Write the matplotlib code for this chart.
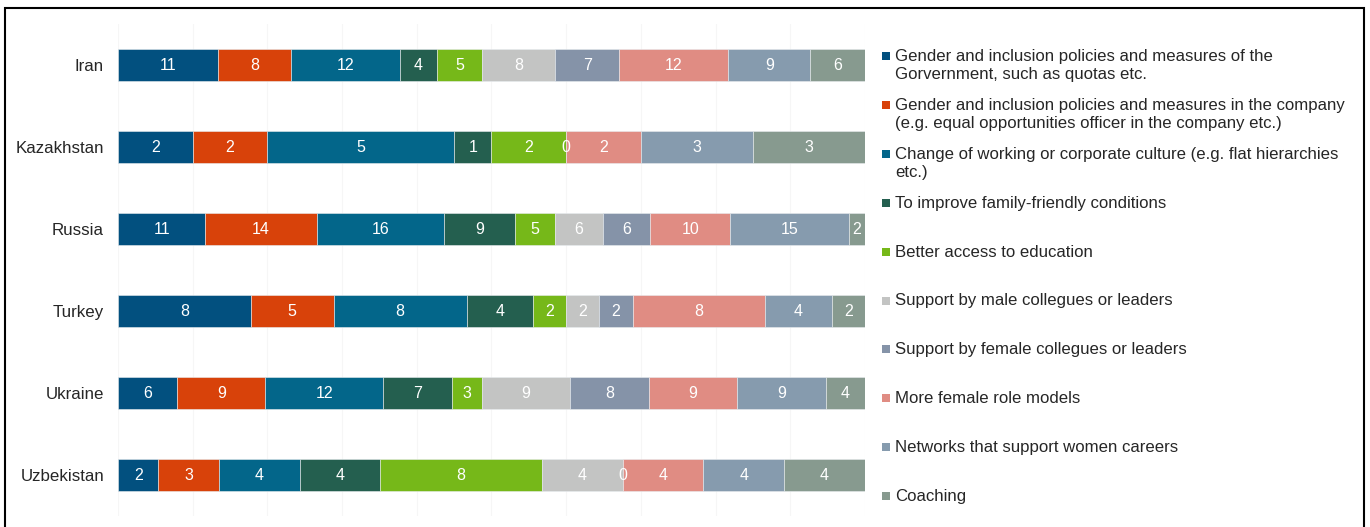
import numpy as np
import matplotlib
matplotlib.use("Agg")
import matplotlib.pyplot as plt
from matplotlib.patches import Rectangle

plt.rcParams['font.family'] = ['Liberation Sans', 'DejaVu Sans']

countries = ["Iran", "Kazakhstan", "Russia", "Turkey", "Ukraine", "Uzbekistan"]
series_names = [
    "Gender and inclusion policies and measures of the\nGorvernment, such as quotas etc.",
    "Gender and inclusion policies and measures in the company\n(e.g. equal opportunities officer in the company etc.)",
    "Change of working or corporate culture (e.g. flat hierarchies\netc.)",
    "To improve family-friendly conditions",
    "Better access to education",
    "Support by male collegues or leaders",
    "Support by female collegues or leaders",
    "More female role models",
    "Networks that support women careers",
    "Coaching",
]
colors = ["#02507F", "#D8420A", "#03668A", "#245F4F", "#76B819",
          "#C3C4C3", "#8593A8", "#E08C83", "#869BAE", "#879A8F"]

# values per country, in series order (nan = no value shown)
iran       = [11, 8, 12, 4, 5, 8, 7, 12, 9, 6]
kazakhstan = [2, 2, 5, 1, 2, 0, np.nan, 2, 3, 3]
russia     = [11, 14, 16, 9, 5, 6, 6, 10, 15, 2]
turkey     = [8, 5, 8, 4, 2, 2, 2, 8, 4, 2]
ukraine    = [6, 9, 12, 7, 3, 9, 8, 9, 9, 4]
uzbekistan = [2, 3, 4, 4, 8, 4, 0, 4, 4, 4]

data = np.array([iran, kazakhstan, russia, turkey, ukraine, uzbekistan], dtype=float)

W, H = 1370, 527
fig = plt.figure(figsize=(W / 100, H / 100), dpi=100)
ax = fig.add_axes([118 / W, (H - 516) / H, 747 / W, 492 / H])

totals = np.nansum(data, axis=1)
shares = np.nan_to_num(data) / totals[:, None]
ypos = np.arange(len(countries))
left = np.zeros(len(countries))
for j in range(data.shape[1]):
    w = shares[:, j]
    ax.barh(ypos, w, left=left, height=0.4, color=colors[j],
            edgecolor="#E8ECEF", linewidth=0.4, zorder=2)
    for i in range(len(countries)):
        v = data[i, j]
        if not np.isnan(v):
            ax.text(left[i] + w[i] / 2, ypos[i], f"{int(v)}", ha="center",
                    va="center", color="white", fontsize=11.5, zorder=3)
    left += w

ax.set_xlim(0, 1)
ax.set_ylim(len(countries) - 0.5, -0.5)
ax.set_yticks(ypos)
ax.set_yticklabels(countries, fontsize=12.2, color="#262626")
ax.tick_params(axis="y", length=0, pad=10)
ax.set_xticks(np.linspace(0, 1, 11))
ax.tick_params(axis="x", length=0, labelbottom=False)
ax.grid(axis="x", color="#F6F6F6", linewidth=0.8, zorder=0)
for s in ax.spines.values():
    s.set_visible(False)

# legend (markers aligned with first text line)
for k, name in enumerate(series_names):
    yc = 56 + 48.9 * k
    fig.patches.append(Rectangle((882 / W, (H - yc - 4) / H), 8 / W, 8 / H,
                                 transform=fig.transFigure, facecolor=colors[k],
                                 edgecolor="none"))
    fig.text(895 / W, (H - yc + 7) / H, name, ha="left", va="top",
             fontsize=12.1, color="#262626", linespacing=1.28)

# outer frame
fig.patches.append(Rectangle((5 / W, -0.02), (1364 - 5) / W, (H - 8) / H + 0.02,
                             transform=fig.transFigure, facecolor="none",
                             edgecolor="black", linewidth=1.5))

fig.savefig("out.png", dpi=100)
